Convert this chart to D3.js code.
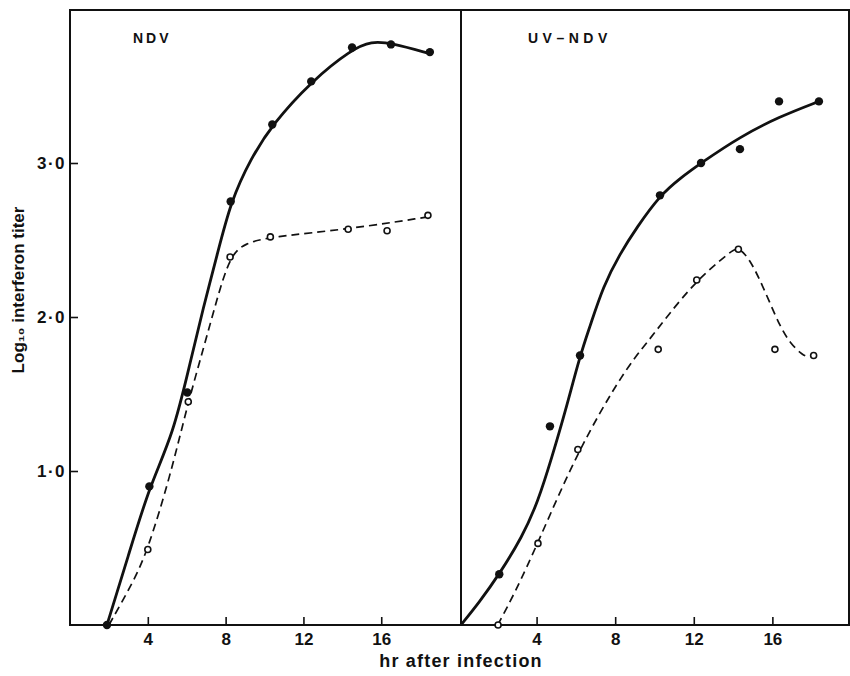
<!DOCTYPE html>
<html lang="en">
<head>
<meta charset="UTF-8">
<title>Interferon titer after infection</title>
<script src="https://cdn.jsdelivr.net/npm/d3@7"></script>
<style>
  body { margin: 0; background: #fff; }
  svg text { font-family: "Liberation Sans", Arial, sans-serif; font-weight: bold; fill: #111; }
  .frame { stroke: #111; stroke-width: 2; fill: none; }
  .axis path { display: none; }
  .axis line { stroke: #111; stroke-width: 1.6; }
  .axis text { font-size: 17px; font-family: "Liberation Sans", Arial, sans-serif; font-weight: bold; }
  .yaxis text { letter-spacing: 1.5px; }
  .solid { fill: none; stroke: #111; stroke-width: 2.8; }
  .dashed { fill: none; stroke: #111; stroke-width: 1.7; stroke-dasharray: 8 5; }
  .dot { fill: #111; }
  .ring { fill: #fff; stroke: #111; stroke-width: 1.6; }
</style>
</head>
<body>
<svg width="850" height="676"></svg>
<script>

// tick labels
var xTicks = [4, 8, 12, 16];
var yTicks = [1, 2, 3];
var panelNames = ["NDV", "UV\u2013NDV"];

// NDV panel: measured points (filled and open)
var ndvFilledHr = [1.9, 4.08, 6.03, 8.26, 10.4, 12.4, 14.5, 16.5, 18.5];
var ndvFilledTiter = [0, 0.9, 1.51, 2.75, 3.25, 3.53, 3.75, 3.77, 3.72];
var ndvOpenHr = [4.0, 6.08, 8.23, 10.3, 14.3, 16.3, 18.4];
var ndvOpenTiter = [0.49, 1.45, 2.39, 2.52, 2.57, 2.56, 2.66];

// NDV panel: drawn curves
var ndvSolidHr = [1.9, 3.0, 4.08, 5.31, 6.17, 6.85, 7.54, 8.26, 9.3, 10.4, 12.4, 14.5, 15.5, 16.5, 18.5];
var ndvSolidTiter = [0, 0.45, 0.9, 1.24, 1.70, 2.06, 2.39, 2.75, 3.03, 3.25, 3.53, 3.74, 3.79, 3.78, 3.71];
var ndvDashHr = [2.0, 3.3, 4.0, 5.14, 6.08, 6.85, 7.54, 8.23, 9.0, 10.3, 14.3, 18.4];
var ndvDashTiter = [0, 0.29, 0.49, 0.96, 1.45, 1.79, 2.11, 2.40, 2.48, 2.52, 2.57, 2.65];

// UV-NDV panel: measured points
var uvFilledHr = [2.1, 4.68, 6.21, 10.28, 12.37, 14.35, 16.34, 18.37];
var uvFilledTiter = [0.33, 1.29, 1.75, 2.79, 3.0, 3.09, 3.40, 3.40];
var uvOpenHr = [2.04, 4.07, 6.1, 10.19, 12.15, 14.27, 16.13, 18.1];
var uvOpenTiter = [0, 0.53, 1.14, 1.79, 2.24, 2.44, 1.79, 1.75];

// UV-NDV panel: drawn curves
var uvSolidHr = [0.15, 1.1, 2.1, 3.26, 4.07, 4.78, 5.45, 6.21, 6.72, 7.39, 8.24, 9.09, 10.28, 11.3, 12.37, 14.35, 16.34, 18.37];
var uvSolidTiter = [0, 0.15, 0.33, 0.57, 0.80, 1.09, 1.38, 1.75, 1.94, 2.20, 2.41, 2.58, 2.79, 2.90, 3.0, 3.17, 3.30, 3.40];
var uvDashHr = [2.02, 2.9, 4.06, 6.12, 8.5, 9.6, 10.62, 12.15, 13.84, 14.27, 14.86, 15.37, 15.88, 16.39, 16.9, 17.56, 17.85];
var uvDashTiter = [0, 0.21, 0.53, 1.14, 1.66, 1.83, 2.0, 2.24, 2.42, 2.46, 2.37, 2.24, 2.09, 1.94, 1.83, 1.75, 1.74];

function pairs(xs, ys) { return xs.map(function(d, i) { return [d, ys[i]]; }); }

var svg = d3.select("svg");
var plotTop = 10, plotBottom = 625, plotLeft = 70, plotMid = 461, plotRight = 849;

var y = d3.scaleLinear().domain([0, 4]).range([plotBottom, plotTop - 1]);

var panels = [
  { name: panelNames[0], x: d3.scaleLinear().domain([0, 20.1]).range([plotLeft, plotMid]),
    solid: pairs(ndvSolidHr, ndvSolidTiter), dash: pairs(ndvDashHr, ndvDashTiter),
    filled: pairs(ndvFilledHr, ndvFilledTiter), open: pairs(ndvOpenHr, ndvOpenTiter),
    labelX: 133, spacing: 3 },
  { name: panelNames[1], x: d3.scaleLinear().domain([0, 19.9]).range([458, plotRight]),
    solid: pairs(uvSolidHr, uvSolidTiter), dash: pairs(uvDashHr, uvDashTiter),
    filled: pairs(uvFilledHr, uvFilledTiter), open: pairs(uvOpenHr, uvOpenTiter),
    labelX: 528, spacing: 4.5 }
];

// frame
svg.append("rect").attr("class", "frame")
  .attr("x", plotLeft).attr("y", plotTop)
  .attr("width", plotRight - plotLeft).attr("height", plotBottom - plotTop);
svg.append("line").attr("class", "frame")
  .attr("x1", plotMid).attr("x2", plotMid).attr("y1", plotTop).attr("y2", plotBottom);

// y axis (left panel only)
svg.append("g").attr("class", "axis yaxis")
  .attr("transform", "translate(" + plotLeft + ",0)")
  .call(d3.axisLeft(y).tickValues(yTicks).tickSizeInner(-8).tickSizeOuter(0).tickPadding(4)
    .tickFormat(function(d) { return d + "\u00b70"; }));

panels.forEach(function(p) {
  svg.append("g").attr("class", "axis")
    .attr("transform", "translate(0," + plotBottom + ")")
    .call(d3.axisBottom(p.x).tickValues(xTicks).tickSizeInner(-8).tickSizeOuter(0).tickPadding(8));

  // smooth hand-drawn curves
  var line = d3.line()
    .x(function(d) { return p.x(d[0]); })
    .y(function(d) { return y(d[1]); })
    .curve(d3.curveBasis);

  svg.append("path").attr("class", "dashed").attr("d", line(p.dash));
  svg.append("path").attr("class", "solid").attr("d", line(p.solid));

  svg.selectAll(null).data(p.open).enter().append("circle")
    .attr("class", "ring")
    .attr("cx", function(d) { return p.x(d[0]); })
    .attr("cy", function(d) { return y(d[1]); })
    .attr("r", 3);

  svg.selectAll(null).data(p.filled).enter().append("circle")
    .attr("class", "dot")
    .attr("cx", function(d) { return p.x(d[0]); })
    .attr("cy", function(d) { return y(d[1]); })
    .attr("r", 4.2);

  svg.append("text")
    .attr("x", p.labelX).attr("y", 43)
    .style("font-size", "14px").style("letter-spacing", p.spacing + "px")
    .text(p.name);
});

// axis titles
svg.append("text")
  .attr("transform", "translate(24,290) rotate(-90)")
  .attr("text-anchor", "middle")
  .style("font-size", "17px")
  .text("Log\u2081\u2080 interferon titer");

svg.append("text")
  .attr("x", 461).attr("y", 667)
  .attr("text-anchor", "middle")
  .style("font-size", "18px").style("letter-spacing", "1.2px")
  .text("hr after infection");

</script>
</body>
</html>
